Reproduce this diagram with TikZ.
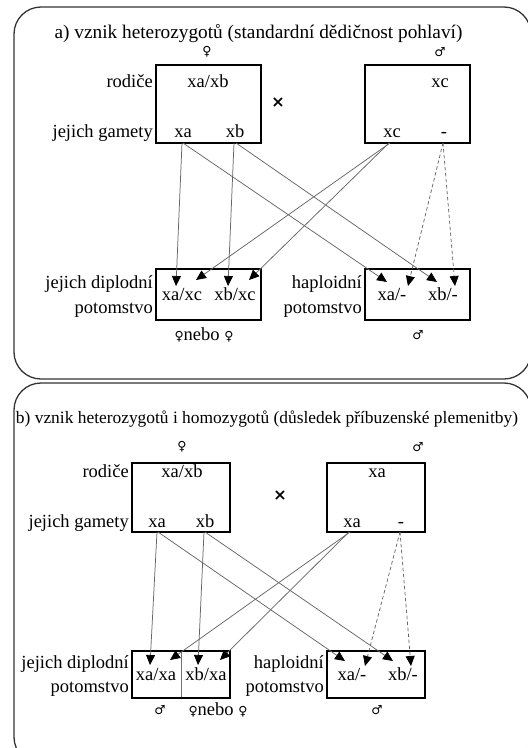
\documentclass[tikz,border=0pt]{standalone}
\usepackage{fontspec}
\setmainfont{Liberation Serif}
\newfontfamily\symf{DejaVu Sans}
\usetikzlibrary{arrows.meta}
\newcommand{\fem}{{\symf\fontsize{12.5}{14}\selectfont ♀}}
\tikzset{
  txt/.style={inner sep=0pt, anchor=base, font=\fontsize{18.5}{20}\selectfont},
  lbl/.style={inner sep=0pt, anchor=base east, font=\fontsize{18.5}{20}\selectfont},
  sex/.style={inner sep=0pt, font=\symf\fontsize{12.5}{14}\selectfont},
  cross/.style={inner sep=0pt, font=\symf\bfseries\fontsize{16}{17}\selectfont},
  panel/.style={draw=black!80, line width=1.3pt, rounded corners=27pt},
  gbox/.style={draw=black, line width=1.6pt},
  link/.style={draw=black!60, line width=0.75pt, -{Triangle[length=10pt,width=9pt,color=black]}},
  dlink/.style={link, dash pattern=on 3.5pt off 2.5pt}
}
\begin{document}
\begin{tikzpicture}[x=1pt,y=-1pt]
\useasboundingbox (0,0) rectangle (528,748);
\clip (0,0) rectangle (528,748);
% panels
\draw[panel] (14,7) rectangle (531,379);
\draw[panel] (14,383) rectangle (531,764);

% ===== panel a =====
\node[txt, font=\fontsize{19.3}{21}\selectfont] (ta) at (258.5,38) {a) vznik heterozygotů (standardní dědičnost pohlaví)};
\node[sex] (fa) at (207,52) {♀};
\node[sex] (ma) at (440,52) {♂};
\draw[gbox] (156,65) rectangle (261,143);
\draw[gbox] (365,65) rectangle (470,143);
\node[lbl] (ra) at (153,87) {rodiče};
\node[txt] (pfa) at (208,87) {xa/xb};
\node[txt] (pma) at (440,87) {xc};
\node[cross] (xa) at (278,103) {×};
\node[lbl] (ga) at (153,137) {jejich gamety};
\node[txt] (gfa1) at (183,137) {xa};
\node[txt] (gfa2) at (235,137) {xb};
\node[txt] (gma1) at (392,137) {xc};
\node[txt] (gma2) at (444,137) {-};
\draw[gbox] (156,269) rectangle (261,320);
\draw[gbox] (365,269) rectangle (470,320);
\node[lbl] (da1) at (153,288) {jejich diplodní};
\node[lbl] (da2) at (153,313) {potomstvo};
\node[lbl] (ha1) at (362,288) {haploidní};
\node[lbl] (ha2) at (362,313) {potomstvo};
\node[txt] (oa1) at (182,300) {xa/xc};
\node[txt] (oa2) at (235,300) {xb/xc};
\node[txt] (oa3) at (392,300) {xa/-};
\node[txt] (oa4) at (443,300) {xb/-};
\node[txt] (sa1) at (204,340) {\fem nebo \fem};
\node[sex] (sa2) at (418,335) {♂};

\coordinate (a1s) at (182,143); \coordinate (a1e) at (176,286);
\coordinate (a2s) at (234,143); \coordinate (a2e) at (228,286);
\coordinate (a3s) at (390,143); \coordinate (a3e) at (196,280);
\coordinate (a4s) at (389,143); \coordinate (a4e) at (249,280);
\coordinate (a5s) at (183,143); \coordinate (a5e) at (387,282);
\coordinate (a6s) at (236,143); \coordinate (a6e) at (437,282);
\coordinate (a7s) at (443,143); \coordinate (a7e) at (408,286);
\coordinate (a8e) at (455,286);
\draw[link] (a1s) -- (a1e);
\draw[link] (a2s) -- (a2e);
\draw[link] (a3s) -- (a3e);
\draw[link] (a4s) -- (a4e);
\draw[link] (a5s) -- (a5e);
\draw[link] (a6s) -- (a6e);
\draw[dlink] (a7s) -- (a7e);
\draw[dlink] (a7s) -- (a8e);

% ===== panel b =====
\node[txt, font=\fontsize{17.4}{19}\selectfont] (tb) at (267,423) {b) vznik heterozygotů i homozygotů (důsledek příbuzenské plemenitby)};
\node[sex] (fb) at (182,447) {♀};
\node[sex] (mb) at (418,447) {♂};
\draw[gbox] (132,463) rectangle (230,532);
\draw[gbox] (327,463) rectangle (425,532);
\node[lbl] (rb) at (129,477) {rodiče};
\node[txt] (pfb) at (182,477) {xa/xb};
\node[txt] (pmb) at (377,477) {xa};
\node[cross] (xb) at (280,496) {×};
\node[lbl] (gb) at (129,527) {jejich gamety};
\node[txt] (gfb1) at (157,527) {xa};
\node[txt] (gfb2) at (205,527) {xb};
\node[txt] (gmb1) at (352,527) {xa};
\node[txt] (gmb2) at (401,527) {-};
\draw[draw=black!55, line width=0.8pt] (181,651) -- (181,698);
\draw[gbox] (132,651) rectangle (230,698);
\draw[gbox] (327,651) rectangle (425,698);
\node[lbl] (db1) at (129,668) {jejich diplodní};
\node[lbl] (db2) at (129,692) {potomstvo};
\node[lbl] (hb1) at (324,668) {haploidní};
\node[lbl] (hb2) at (324,692) {potomstvo};
\node[txt] (ob1) at (156,680) {xa/xa};
\node[txt] (ob2) at (206,680) {xb/xa};
\node[txt] (ob3) at (352,680) {xa/-};
\node[txt] (ob4) at (403,680) {xb/-};
\node[sex] (sb1) at (160,710) {♂};
\node[txt] (sb2) at (218,715) {\fem nebo \fem};
\node[sex] (sb3) at (377,710) {♂};

\coordinate (b1s) at (157,532); \coordinate (b1e) at (150,665);
\coordinate (b2s) at (204,532); \coordinate (b2e) at (198,665);
\coordinate (b3s) at (350,532); \coordinate (b3e) at (170,660);
\coordinate (b4s) at (349,532); \coordinate (b4e) at (220,660);
\coordinate (b5s) at (158,532); \coordinate (b5e) at (345,661);
\coordinate (b6s) at (205,532); \coordinate (b6e) at (393,661);
\coordinate (b7s) at (400,532); \coordinate (b7e) at (365,666);
\coordinate (b8e) at (411,666);
\draw[link] (b1s) -- (b1e);
\draw[link] (b2s) -- (b2e);
\draw[link] (b3s) -- (b3e);
\draw[link] (b4s) -- (b4e);
\draw[link] (b5s) -- (b5e);
\draw[link] (b6s) -- (b6e);
\draw[dlink] (b7s) -- (b7e);
\draw[dlink] (b7s) -- (b8e);
\end{tikzpicture}
\end{document}
